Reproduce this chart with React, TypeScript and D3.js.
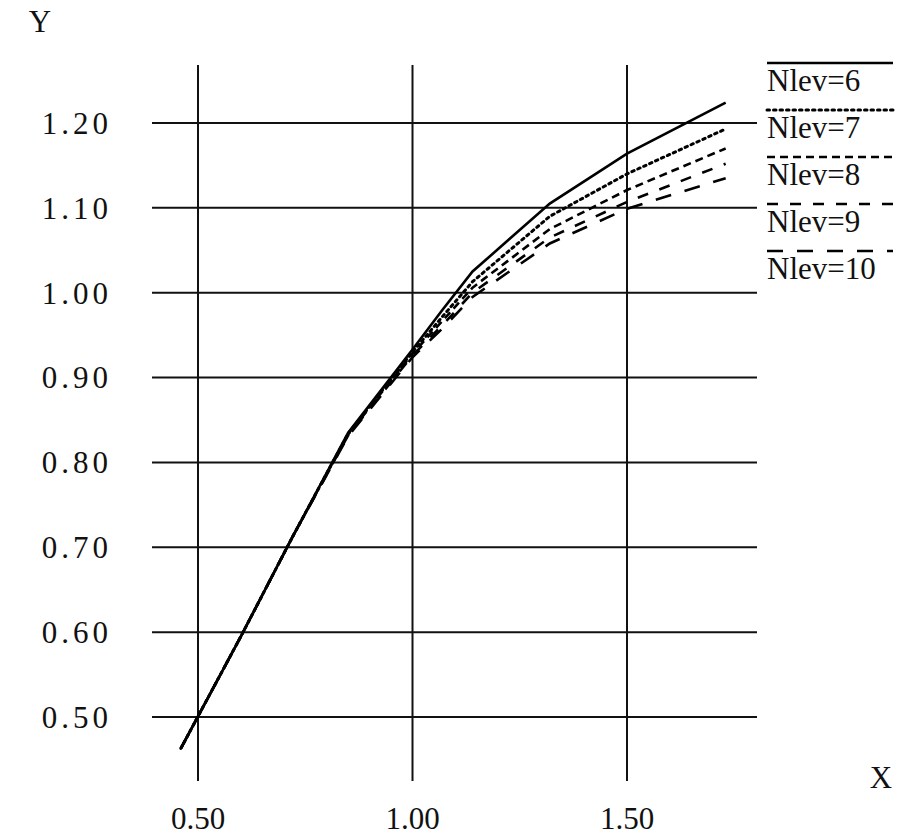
import * as d3 from 'd3';
import React from 'react';

// sample x positions shared by all curves
const xs = [0.46, 0.6, 0.72, 0.85, 1.0, 1.07, 1.14, 1.32, 1.5, 1.73];

const nlev6 = [0.463, 0.595, 0.712, 0.835, 0.933, 0.98, 1.025, 1.105, 1.164, 1.224];
const nlev7 = [0.463, 0.595, 0.712, 0.834, 0.93, 0.972, 1.013, 1.09, 1.14, 1.193];
const nlev8 = [0.463, 0.595, 0.712, 0.833, 0.928, 0.967, 1.006, 1.075, 1.121, 1.17];
const nlev9 = [0.463, 0.595, 0.712, 0.832, 0.926, 0.962, 1.0, 1.065, 1.107, 1.152];
const nlev10 = [0.463, 0.595, 0.712, 0.831, 0.924, 0.958, 0.995, 1.058, 1.099, 1.135];

const seriesNames = ['Nlev=6', 'Nlev=7', 'Nlev=8', 'Nlev=9', 'Nlev=10'];
const seriesValues = [nlev6, nlev7, nlev8, nlev9, nlev10];
const dashes = ['none', '2.5 4', '8 5', '11 12', '16 14'];

const xTicks = [0.5, 1.0, 1.5];
const yTicks = [0.5, 0.6, 0.7, 0.8, 0.9, 1.0, 1.1, 1.2];

const font = '"Liberation Serif", "DejaVu Serif", serif';

export default function App() {
  const width = 898, height = 838;

  const x = d3.scaleLinear().domain([0.5, 1.5]).range([198, 627]);
  const y = d3.scaleLinear().domain([0.5, 1.2]).range([717, 123]);

  const line = d3.line<[number, number]>()
    .x(d => x(d[0]))
    .y(d => y(d[1]));

  return (
    <svg width={width} height={height} style={{ position: 'absolute', left: 0, top: 0, background: '#fff' }}
      fontFamily={font}>
      {/* grid */}
      {yTicks.map(t => (
        <g key={'y' + t}>
          <line x1={152} x2={757} y1={y(t)} y2={y(t)} stroke="#111" strokeWidth={2} />
          <text x={112} y={y(t)} dy="0.35em" textAnchor="end" fontSize={31} letterSpacing={4} fill="#111">{t.toFixed(2)}</text>
        </g>
      ))}
      {xTicks.map(t => (
        <g key={'x' + t}>
          <line x1={x(t)} x2={x(t)} y1={65} y2={781} stroke="#111" strokeWidth={2} />
          <text x={x(t)} y={829} textAnchor="middle" fontSize={31} fill="#111">{t.toFixed(2)}</text>
        </g>
      ))}
      <text x={40} y={32} textAnchor="middle" fontSize={31} fill="#111">Y</text>
      <text x={881} y={788} textAnchor="middle" fontSize={31} fill="#111">X</text>

      {/* curves */}
      {seriesValues.map((vals, i) => (
        <path key={i}
          d={line(xs.map((v, j) => [v, vals[j]] as [number, number])) || ''}
          fill="none" stroke="#000" strokeWidth={i === 1 ? 3 : 2.6}
          strokeDasharray={dashes[i]} strokeLinecap={i === 1 ? 'round' : 'butt'} />
      ))}

      {/* legend */}
      {seriesNames.map((name, i) => (
        <g key={name} transform={`translate(767,${63 + i * 47})`}>
          <line x1={0} x2={126} y1={0} y2={0} stroke="#000" strokeWidth={i === 1 ? 3 : 2.6}
            strokeDasharray={dashes[i]} strokeLinecap={i === 1 ? 'round' : 'butt'} />
          <text x={0} y={28} fontSize={31} fill="#111">{name}</text>
        </g>
      ))}
    </svg>
  );
}
